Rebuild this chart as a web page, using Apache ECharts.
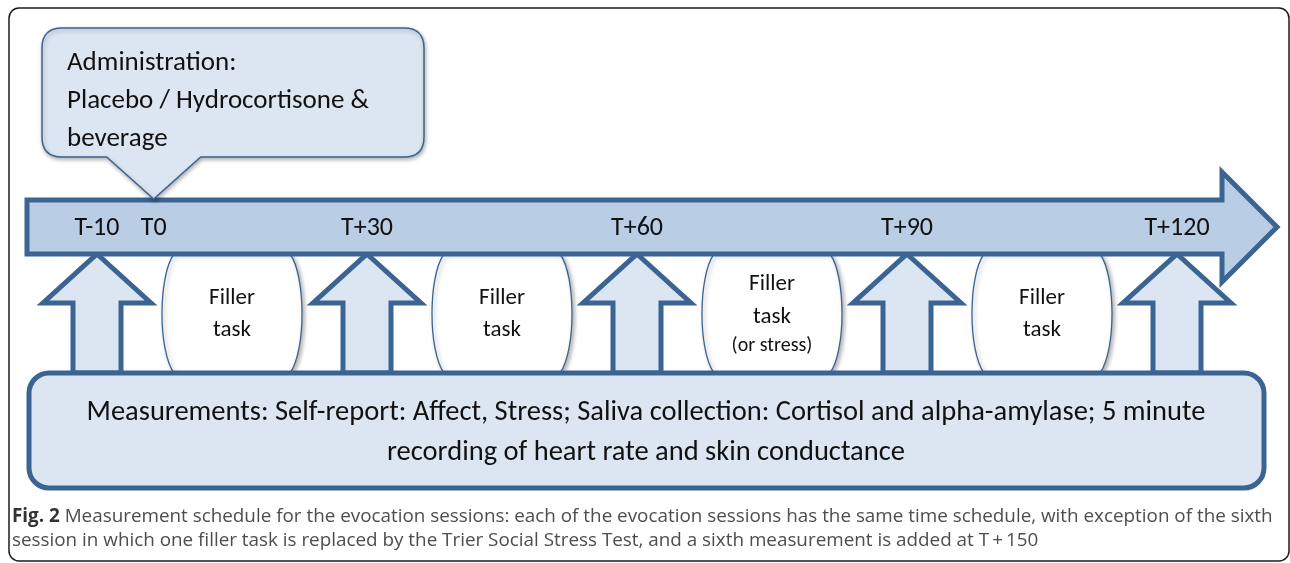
<!DOCTYPE html>
<html>
<head>
<meta charset="utf-8">
<script src="https://cdn.jsdelivr.net/npm/echarts@6/dist/echarts.min.js"></script>
<style>
  html, body { margin: 0; padding: 0; background: #fff; }
  #main { width: 1290px; height: 563px; }
</style>
</head>
<body>
<div id="main"></div>
<script>
// schedule positions are in "slot" units: one slot = one measurement interval
var timeLabels = ['T-10', 'T0', 'T+30', 'T+60', 'T+90', 'T+120'];
var timeSlots = [0, 0.21, 1, 2, 3, 4];
var measureSlots = [0, 1, 2, 3, 4];
var fillerSlots = [0.5, 1.5, 2.5, 3.5];
var fillerTexts = [
    ['Filler', 'task'],
    ['Filler', 'task'],
    ['Filler', 'task', '(or stress)'],
    ['Filler', 'task']
];
var adminSlot = 0.21; // administration happens at T0
var adminLines = ['Administration:', 'Placebo / Hydrocortisone &', 'beverage'];
var measureLines = [
    'Measurements: Self-report: Affect, Stress; Saliva collection: Cortisol and alpha-amylase; 5 minute',
    'recording of heart rate and skin conductance'
];
var captionLines = [
    'Measurement schedule for the evocation sessions: each of the evocation sessions has the same time schedule, with exception of the sixth',
    'session in which one filler task is replaced by the Trier Social Stress Test, and a sixth measurement is added at T\u2009+\u2009150'
];

var DARK = '#3b6493';
var MID = '#b9cde5';
var LIGHT = '#dce6f2';
var FONT = 'Carlito, Lato, sans-serif';

(function () {
    var chart = echarts.init(document.getElementById('main'));

    var option = {
        animation: false,
        grid: { left: 97, width: 1080, top: 0, height: 563 },
        xAxis: { type: 'value', min: 0, max: 4, show: false },
        yAxis: { type: 'value', min: 0, max: 563, inverse: true, show: false },
        graphic: [
            // outer frame
            {
                type: 'rect', z: 0,
                shape: { x: 9, y: 8, width: 1280, height: 553, r: 10 },
                style: { fill: 'none', stroke: '#1c1c1c', lineWidth: 1.5 }
            },
            {
                type: 'text', z: 6, left: 67, top: 44,
                style: {
                    text: adminLines.join('\n'), fill: '#111',
                    font: '27px ' + FONT, lineHeight: 38
                }
            },
            // main time arrow
            {
                type: 'polygon', z: 3,
                shape: { points: [[27, 200], [1222, 200], [1222, 172], [1277, 227], [1222, 282], [1222, 254], [27, 254]] },
                style: { fill: MID, stroke: DARK, lineWidth: 5, lineJoin: 'miter' }
            },
            // measurement box
            {
                type: 'rect', z: 4,
                shape: { x: 29, y: 373, width: 1235, height: 115, r: 20 },
                style: { fill: LIGHT, stroke: DARK, lineWidth: 5 }
            },
            {
                type: 'text', z: 6, x: 646, y: 433,
                style: {
                    text: measureLines.join('\n'), fill: '#111',
                    font: '28.5px ' + FONT, lineHeight: 40,
                    align: 'center', verticalAlign: 'middle'
                }
            },
            // caption
            {
                type: 'text', z: 6, left: 12, top: 505,
                style: {
                    text: '{b|Fig. 2} ' + captionLines[0] + '\n' + captionLines[1],
                    fill: '#4d4d4d',
                    font: '18.85px "Open Sans", sans-serif',
                    lineHeight: 24,
                    rich: {
                        b: { font: 'bold 18.85px "Open Sans", sans-serif', fill: '#333', lineHeight: 24 }
                    }
                }
            }
        ],
        series: [
            {
                // administration callout pointing at T0
                type: 'custom', z: 3,
                data: [[adminSlot]],
                renderItem: function (params, api) {
                    var x = api.coord([api.value(0), 0])[0];
                    var d = 'M62 28 H404 Q424 28 424 48 V137 Q424 157 404 157 H' + (x + 47) +
                        ' L' + x + ' 199 L' + (x - 47) + ' 157 H62 Q42 157 42 137 V48 Q42 28 62 28 Z';
                    return {
                        type: 'path',
                        shape: { pathData: d },
                        style: {
                            fill: LIGHT, stroke: DARK, lineWidth: 1.5,
                            shadowBlur: 4, shadowOffsetX: 1, shadowOffsetY: 2, shadowColor: 'rgba(0,0,0,0.3)'
                        }
                    };
                }
            },
            {
                // filler task blocks between measurements
                type: 'custom', z: 1,
                data: fillerSlots.map(function (s, i) { return [s, i]; }),
                renderItem: function (params, api) {
                    var x = api.coord([api.value(0), 0])[0];
                    var lines = fillerTexts[api.value(1)];
                    var top = 254, bot = 373;
                    var d = 'M' + (x - 58) + ' ' + top + ' L' + (x + 58) + ' ' + top +
                        ' C' + (x + 74) + ' ' + (top + 22) + ' ' + (x + 74) + ' ' + (bot - 22) + ' ' + (x + 58) + ' ' + bot +
                        ' L' + (x - 58) + ' ' + bot +
                        ' C' + (x - 74) + ' ' + (bot - 22) + ' ' + (x - 74) + ' ' + (top + 22) + ' ' + (x - 58) + ' ' + top + ' Z';
                    var children = [{
                        type: 'path',
                        shape: { pathData: d },
                        style: {
                            fill: '#fff', stroke: DARK, lineWidth: 1.3,
                            shadowBlur: 4, shadowOffsetX: 2, shadowOffsetY: 2, shadowColor: 'rgba(0,0,0,0.3)'
                        }
                    }];
                    var ys = lines.length === 3 ? [284, 317, 346] : [298, 330];
                    lines.forEach(function (t, k) {
                        children.push({
                            type: 'text', z2: 10,
                            style: {
                                text: t, x: x, y: ys[k], fill: '#111',
                                font: (k === 2 ? '20px ' : '23px ') + FONT,
                                align: 'center', verticalAlign: 'middle'
                            }
                        });
                    });
                    return { type: 'group', children: children };
                }
            },
            {
                // measurement up-arrows
                type: 'custom', z: 2,
                data: measureSlots.map(function (s) { return [s]; }),
                renderItem: function (params, api) {
                    var x = api.coord([api.value(0), 0])[0];
                    return {
                        type: 'polygon',
                        shape: {
                            points: [[x, 254], [x + 54, 303], [x + 24, 303], [x + 24, 373],
                                [x - 24, 373], [x - 24, 303], [x - 54, 303]]
                        },
                        style: { fill: LIGHT, stroke: DARK, lineWidth: 5, lineJoin: 'miter' }
                    };
                }
            },
            {
                // time labels on the arrow
                type: 'custom', z: 7,
                data: timeSlots.map(function (s, i) { return [s, i]; }),
                renderItem: function (params, api) {
                    var x = api.coord([api.value(0), 0])[0];
                    return {
                        type: 'text',
                        style: {
                            text: timeLabels[api.value(1)], x: x, y: 228, fill: '#111',
                            font: '26px ' + FONT, align: 'center', verticalAlign: 'middle'
                        }
                    };
                }
            }
        ]
    };
    chart.setOption(option);
})();
</script>
</body>
</html>
